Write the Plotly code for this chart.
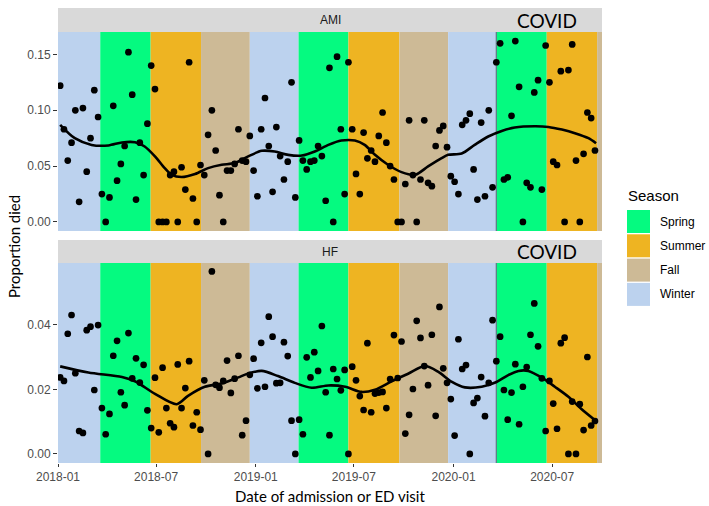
import plotly.graph_objects as go

# ---------------- data ----------------
WEEK_DATES = """
2018-01-05 2018-01-12 2018-01-19 2018-01-26 2018-02-02 2018-02-09 2018-02-16 2018-02-23
2018-03-02 2018-03-09 2018-03-16 2018-03-23 2018-03-30 2018-04-06 2018-04-13 2018-04-20
2018-04-27 2018-05-04 2018-05-11 2018-05-18 2018-05-25 2018-06-01 2018-06-08 2018-06-15
2018-06-22 2018-06-29 2018-07-06 2018-07-13 2018-07-20 2018-07-27 2018-08-03 2018-08-10
2018-08-17 2018-08-24 2018-08-31 2018-09-07 2018-09-14 2018-09-21 2018-09-28 2018-10-05
2018-10-12 2018-10-19 2018-10-26 2018-11-02 2018-11-09 2018-11-16 2018-11-23 2018-11-30
2018-12-07 2018-12-14 2018-12-21 2018-12-28
2019-01-04 2019-01-11 2019-01-18 2019-01-25 2019-02-01 2019-02-08 2019-02-15 2019-02-22
2019-03-01 2019-03-08 2019-03-15 2019-03-22 2019-03-29 2019-04-05 2019-04-12 2019-04-19
2019-04-26 2019-05-03 2019-05-10 2019-05-17 2019-05-24 2019-05-31 2019-06-07 2019-06-14
2019-06-21 2019-06-28 2019-07-05 2019-07-12 2019-07-19 2019-07-26 2019-08-02 2019-08-09
2019-08-16 2019-08-23 2019-08-30 2019-09-06 2019-09-13 2019-09-20 2019-09-27 2019-10-04
2019-10-11 2019-10-18 2019-10-25 2019-11-01 2019-11-08 2019-11-15 2019-11-22 2019-11-29
2019-12-06 2019-12-13 2019-12-20 2019-12-27
2020-01-03 2020-01-10 2020-01-17 2020-01-24 2020-01-31 2020-02-07 2020-02-14 2020-02-21
2020-02-28 2020-03-06 2020-03-13 2020-03-20 2020-03-27 2020-04-03 2020-04-10 2020-04-17
2020-04-24 2020-05-01 2020-05-08 2020-05-15 2020-05-22 2020-05-29 2020-06-05 2020-06-12
2020-06-19 2020-06-26 2020-07-03 2020-07-10 2020-07-17 2020-07-24 2020-07-31 2020-08-07
2020-08-14 2020-08-21 2020-08-28 2020-09-04 2020-09-11 2020-09-18
""".split()

AMI_DIED = [
    0.122, 0.083, 0.055, 0.071, 0.100, 0.018, 0.102, 0.045, 0.075, 0.118,
    0.094, 0.025, 0.000, 0.022, 0.104, 0.037, 0.052, 0.068, 0.152, 0.114,
    0.020, 0.071, 0.042, 0.088, 0.140, 0.119, 0.000, 0.000, 0.000, 0.042,
    0.045, 0.000, 0.049, 0.029, 0.143, 0.021, 0.000, 0.051, 0.042, 0.078,
    0.100, 0.064, 0.024, 0.000, 0.046, 0.046, 0.052, 0.083, 0.055, 0.054,
    0.077, 0.046, 0.023, 0.083, 0.111, 0.068, 0.027, 0.085, 0.059, 0.038,
    0.054, 0.125, 0.022, 0.073, 0.055, 0.047, 0.054, 0.055, 0.068, 0.059,
    0.019, 0.138, 0.000, 0.148, 0.083, 0.025, 0.143, 0.083, 0.043, 0.025,
    0.080, 0.057, 0.064, 0.054, 0.077, 0.098, 0.071, 0.050, 0.038, 0.000,
    0.000, 0.034, 0.091, 0.042, 0.000, 0.038, 0.091, 0.035, 0.032, 0.068,
    0.082, 0.086, 0.067, 0.041, 0.036, 0.025, 0.087, 0.091, 0.097, 0.047,
    0.020, 0.089, 0.023, 0.100, 0.031, 0.143, 0.160, 0.038, 0.040, 0.095,
    0.162, 0.121, 0.000, 0.035, 0.031, 0.116, 0.127, 0.029, 0.158, 0.125,
    0.054, 0.051, 0.135, 0.000, 0.136, 0.159, 0.055, 0.000, 0.061, 0.098,
    0.093, 0.064,
]

HF_DIED = [
    0.0237, 0.0226, 0.0372, 0.0430, 0.0250, 0.0071, 0.0065, 0.0383, 0.0394, 0.0198,
    0.0399, 0.0142, 0.0061, 0.0124, 0.0304, 0.0350, 0.0191, 0.0151, 0.0374, 0.0234,
    0.0296, 0.0221, 0.0276, 0.0135, 0.0080, 0.0236, 0.0067, 0.0267, 0.0142, 0.0095,
    0.0083, 0.0277, 0.0142, 0.0204, 0.0287, 0.0088, 0.0129, 0.0075, 0.0228, 0.0000,
    0.0565, 0.0214, 0.0205, 0.0226, 0.0289, 0.0189, 0.0233, 0.0304, 0.0058, 0.0103,
    0.0245, 0.0295, 0.0203, 0.0344, 0.0208, 0.0425, 0.0363, 0.0219, 0.0220, 0.0346,
    0.0303, 0.0103, 0.0000, 0.0106, 0.0061, 0.0299, 0.0237, 0.0315, 0.0257, 0.0396,
    0.0191, 0.0058, 0.0263, 0.0232, 0.0197, 0.0260, 0.0000, 0.0270, 0.0228, 0.0179,
    0.0136, 0.0343, 0.0129, 0.0187, 0.0190, 0.0192, 0.0142, 0.0232, 0.0368, 0.0235,
    0.0348, 0.0063, 0.0121, 0.0201, 0.0412, 0.0359, 0.0272, 0.0213, 0.0369, 0.0118,
    0.0455, 0.0265, 0.0220, 0.0170, 0.0057, 0.0355, 0.0263, 0.0275, 0.0000, 0.0158,
    0.0173, 0.0238, 0.0117, 0.0220, 0.0414, 0.0287, 0.0363, 0.0198, 0.0106, 0.0190,
    0.0278, 0.0092, 0.0208, 0.0269, 0.0369, 0.0466, 0.0333, 0.0234, 0.0071, 0.0226,
    0.0156, 0.0078, 0.0343, 0.0360, 0.0000, 0.0162, 0.0000, 0.0154, 0.0074, 0.0300,
    0.0088, 0.0102,
]

# smoothed trend
AMI_SMOOTH_DATES = [
    "2018-01-05", "2018-02-01", "2018-03-04", "2018-04-04", "2018-04-29", "2018-05-23",
    "2018-06-10", "2018-06-29", "2018-07-17", "2018-07-30", "2018-08-17", "2018-09-11",
    "2018-10-05", "2018-10-30", "2018-11-23", "2018-12-18", "2019-01-12", "2019-02-05",
    "2019-03-02", "2019-03-27", "2019-04-20", "2019-05-15", "2019-06-08", "2019-07-03",
    "2019-07-21", "2019-08-09", "2019-09-02", "2019-09-27", "2019-10-22", "2019-11-15",
    "2019-12-10", "2019-12-22", "2020-01-16", "2020-02-09", "2020-03-05", "2020-03-30",
    "2020-04-23", "2020-05-30", "2020-06-24", "2020-07-19", "2020-08-12", "2020-09-06",
    "2020-09-20",
]
AMI_SMOOTH = [
    0.087, 0.075, 0.069, 0.0685, 0.0712, 0.0714,
    0.0676, 0.0587, 0.0482, 0.0422, 0.0402, 0.0429,
    0.0482, 0.0512, 0.0527, 0.0587, 0.0637, 0.0631,
    0.0601, 0.0595, 0.0631, 0.069, 0.0729, 0.0729,
    0.069, 0.0601, 0.0512, 0.0446, 0.0422, 0.0497,
    0.0571, 0.0601, 0.0613, 0.069, 0.0765, 0.0815,
    0.0846, 0.0857, 0.0851, 0.0827, 0.0795, 0.075,
    0.0705,
]

HF_SMOOTH_DATES = [
    "2018-01-05", "2018-02-26", "2018-04-29", "2018-05-23", "2018-06-29", "2018-08-08",
    "2018-08-29", "2018-09-29", "2018-10-30", "2018-11-30", "2018-12-18", "2019-01-12",
    "2019-02-11", "2019-03-14", "2019-04-14", "2019-05-15", "2019-06-15", "2019-07-15",
    "2019-08-09", "2019-09-09", "2019-10-10", "2019-11-09", "2019-12-04", "2019-12-29",
    "2020-01-22", "2020-02-22", "2020-03-18", "2020-04-11", "2020-04-30", "2020-05-18",
    "2020-06-12", "2020-07-06", "2020-07-31", "2020-08-24", "2020-09-20",
]
HF_SMOOTH = [
    0.0271, 0.0252, 0.0238, 0.0225, 0.0186, 0.0154,
    0.0180, 0.0208, 0.0218, 0.0237, 0.0249, 0.0257,
    0.0241, 0.0220, 0.0205, 0.0212, 0.0208, 0.0192,
    0.0199, 0.0225, 0.0249, 0.0272, 0.0254, 0.0223,
    0.0206, 0.0208, 0.0221, 0.0244, 0.0257, 0.0257,
    0.0236, 0.0208, 0.0177, 0.0139, 0.0102,
]

# seasons (start, end, name)
SEASON_START = ["2018-01-01", "2018-03-20", "2018-06-21", "2018-09-22", "2018-12-21",
                "2019-03-21", "2019-06-21", "2019-09-23", "2019-12-22", "2020-03-20",
                "2020-06-21", "2020-09-22"]
SEASON_END = ["2018-03-20", "2018-06-21", "2018-09-22", "2018-12-21", "2019-03-21",
              "2019-06-21", "2019-09-23", "2019-12-22", "2020-03-20", "2020-06-21",
              "2020-09-22", "2020-10-01"]
SEASON_NAME = ["Winter", "Spring", "Summer", "Fall", "Winter", "Spring", "Summer", "Fall",
               "Winter", "Spring", "Summer", "Fall"]
SEASON_ORDER = ["Spring", "Summer", "Fall", "Winter"]
SEASON_COLOR = {"Spring": "#05FA80", "Summer": "#EEB422", "Fall": "#CDBA96", "Winter": "#BCD2EE"}

COVID_START = "2020-03-20"
PANELS = ["AMI", "HF"]
X_RANGE = ["2018-01-01", "2020-10-01"]
AMI_RANGE = [-0.0081, 0.1701]
HF_RANGE = [-0.0028, 0.0591]
AMI_TICKS = [0.0, 0.05, 0.10, 0.15]
HF_TICKS = [0.0, 0.02, 0.04]

# ---------------- figure ----------------
W, H = 709, 506
ML, MR, MT, MB = 58, 107, 8, 43
PH = H - MT - MB


def py(p):  # pixel row -> paper y
    return (H - MB - p) / PH


def px(p):  # pixel col -> paper x
    return (p - ML) / (W - ML - MR)


fig = go.Figure()

for vals, sdates, svals, xa, ya in [
    (AMI_DIED, AMI_SMOOTH_DATES, AMI_SMOOTH, "x", "y"),
    (HF_DIED, HF_SMOOTH_DATES, HF_SMOOTH, "x2", "y2"),
]:
    fig.add_trace(go.Scatter(x=WEEK_DATES, y=vals, mode="markers", xaxis=xa, yaxis=ya,
                             marker=dict(color="black", size=6.7), showlegend=False,
                             hoverinfo="x+y"))
    fig.add_trace(go.Scatter(x=sdates, y=svals, mode="lines", xaxis=xa, yaxis=ya,
                             line=dict(color="black", width=2.6, shape="spline", smoothing=0.8),
                             showlegend=False, hoverinfo="skip"))

shapes = []
for xr, yr in [("x", "y domain"), ("x2", "y2 domain")]:
    for s, e, n in zip(SEASON_START, SEASON_END, SEASON_NAME):
        shapes.append(dict(type="rect", xref=xr, yref=yr, x0=s, x1=e, y0=0, y1=1,
                           fillcolor=SEASON_COLOR[n], line=dict(width=0), layer="below"))
    shapes.append(dict(type="line", xref=xr, yref=yr, x0=COVID_START, x1=COVID_START,
                       y0=0, y1=1, line=dict(color="#5E7F86", width=1.3), layer="below"))

# strips
TOP_DOM = [py(231), py(32)]
BOT_DOM = [0.0, py(263)]
STRIPS = [(py(32), 1.0), (py(263), py(240))]
for (y0, y1) in STRIPS:
    shapes.append(dict(type="rect", xref="paper", yref="paper", x0=0, x1=1, y0=y0, y1=y1,
                       fillcolor="#D9D9D9", line=dict(width=0), layer="below"))

annotations = []
for name, (y0, y1) in zip(PANELS, STRIPS):
    annotations.append(dict(text=name, xref="paper", yref="paper", x=0.5, y=(y0 + y1) / 2,
                            xanchor="center", yanchor="middle", showarrow=False,
                            font=dict(family="Liberation Sans", size=12, color="#1A1A1A")))
    annotations.append(dict(text="COVID", xref="paper", yref="paper", x=px(547),
                            y=(y0 + y1) / 2, xanchor="center", yanchor="middle",
                            showarrow=False,
                            font=dict(family="Lato", size=19, color="black")))

# legend (manual, ggplot style)
annotations.append(dict(text="Season", xref="paper", yref="paper", x=px(626), y=py(195),
                        xanchor="left", yanchor="middle", showarrow=False,
                        font=dict(family="Liberation Sans", size=15, color="black")))
key_top = 210
for i, n in enumerate(SEASON_ORDER):
    t = key_top + i * 24.3
    shapes.append(dict(type="rect", xref="paper", yref="paper", x0=px(627), x1=px(650),
                       y0=py(t + 23), y1=py(t), fillcolor=SEASON_COLOR[n],
                       line=dict(width=0)))
    annotations.append(dict(text=n, xref="paper", yref="paper", x=px(658), y=py(t + 11.5),
                            xanchor="left", yanchor="middle", showarrow=False,
                            font=dict(family="Liberation Sans", size=12, color="black")))

# axis titles
annotations.append(dict(text="Date of admission or ED visit", xref="paper", yref="paper",
                        x=px(330), y=py(496), xanchor="center", yanchor="middle",
                        showarrow=False, font=dict(family="Lato", size=15, color="black")))
annotations.append(dict(text="Proportion died", xref="paper", yref="paper",
                        x=px(14), y=py(247), xanchor="center", yanchor="middle",
                        textangle=-90, showarrow=False,
                        font=dict(family="Lato", size=15, color="black")))

tickfont = dict(family="Liberation Sans", size=12, color="#4D4D4D")
xcommon = dict(type="date", range=X_RANGE, showgrid=False, zeroline=False, showline=False,
               tick0="2018-01-01", dtick="M6", tickformat="%Y-%m", domain=[0, 1],
               automargin=False)
ycommon = dict(showgrid=False, zeroline=False, showline=False, ticks="outside", ticklen=4,
               tickcolor="#333333", tickwidth=1, tickfont=tickfont, tickformat=".2f",
               automargin=False)

fig.update_layout(
    template="none",
    width=W, height=H,
    margin=dict(l=ML, r=MR, t=MT, b=MB, autoexpand=False),
    paper_bgcolor="white", plot_bgcolor="white",
    showlegend=False,
    shapes=shapes, annotations=annotations,
    xaxis=dict(**xcommon, anchor="y", showticklabels=False, ticks=""),
    xaxis2=dict(**xcommon, anchor="y2", matches="x", ticks="outside", ticklen=3,
                tickcolor="#333333", tickfont=tickfont),
    yaxis=dict(**ycommon, domain=TOP_DOM, anchor="x", range=AMI_RANGE, tickvals=AMI_TICKS),
    yaxis2=dict(**ycommon, domain=BOT_DOM, anchor="x2", range=HF_RANGE, tickvals=HF_TICKS),
)

fig.write_html(
    "out.html",
    config={"displayModeBar": False},
    post_script="document.body.style.margin='0';document.body.style.padding='0';"
                "document.documentElement.style.overflow='hidden';",
)
